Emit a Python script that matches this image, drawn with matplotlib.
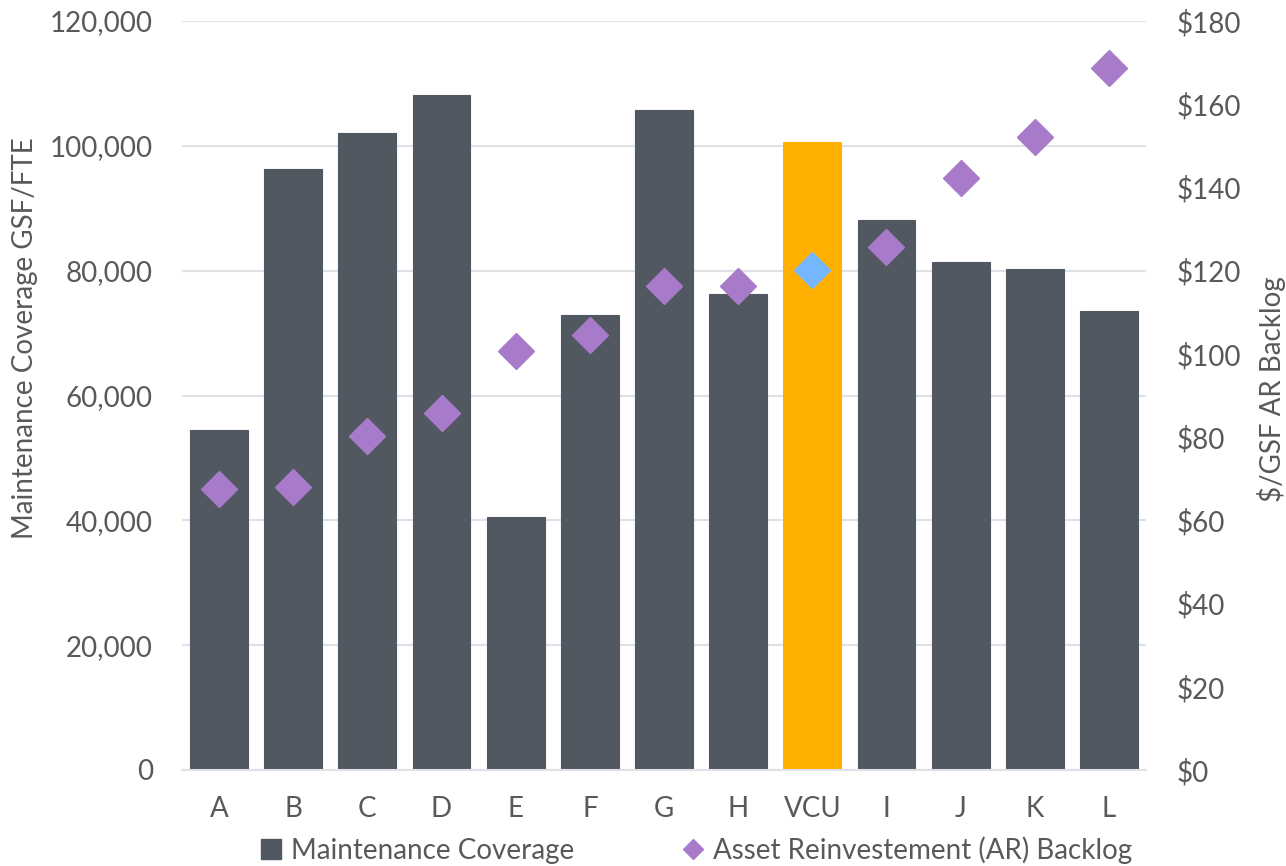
import matplotlib
matplotlib.use("Agg")
import matplotlib.pyplot as plt
from matplotlib.lines import Line2D
from matplotlib.ticker import FuncFormatter

categories = ["A", "B", "C", "D", "E", "F", "G", "H", "VCU", "I", "J", "K", "L"]
coverage = [54400, 96350, 102100, 108070, 40500, 72850, 105750, 76200, 100670, 88040, 81430, 80260, 73490]
backlog = [67.5, 68.0, 80.2, 85.8, 100.6, 104.6, 116.3, 116.4, 120.2, 125.8, 142.3, 152.1, 168.6]
highlight = "VCU"

left_ticks = [0, 20000, 40000, 60000, 80000, 100000, 120000]
right_ticks = [0, 20, 40, 60, 80, 100, 120, 140, 160, 180]

BAR = "#515862"
ORANGE = "#FFB000"
PURPLE = "#A87BCA"
BLUE = "#74B7FF"
TXT = "#595959"
GRID = "#DEE1E5"

plt.rcParams['font.family'] = ['Lato', 'DejaVu Sans']
FS = 20

W, H = 1286, 866
fig = plt.figure(figsize=(W / 100, H / 100), dpi=100)
ax = fig.add_axes([182/W, 1 - 770/H, (1146-182)/W, (770-21)/H])
ax2 = ax.twinx()

x = list(range(len(categories)))
bar_colors = [ORANGE if c == highlight else BAR for c in categories]
ax.bar(x, coverage, width=0.78, color=bar_colors, edgecolor=bar_colors, linewidth=0.8, zorder=2)

pts_x = [i for i, c in enumerate(categories) if c != highlight]
pts_y = [backlog[i] for i in pts_x]
hi = categories.index(highlight)
ax2.plot(pts_x, pts_y, linestyle="none", marker="D", ms=18.5, color=PURPLE, mec=PURPLE, zorder=3)
ax2.plot([hi], [backlog[hi]], linestyle="none", marker="D", ms=18.5, color=BLUE, mec=BLUE, zorder=3)

ax.set_xlim(-0.5, len(categories) - 0.5)
ax.set_ylim(0, 120000)
ax2.set_ylim(0, 180)
ax.set_yticks(left_ticks)
ax2.set_yticks(right_ticks)
ax.yaxis.set_major_formatter(FuncFormatter(lambda v, p: f"{int(v):,}"))
ax2.yaxis.set_major_formatter(FuncFormatter(lambda v, p: f"${int(v)}"))
ax.set_xticks(x)
ax.set_xticklabels(categories)

ax.grid(axis="y", color=GRID, linewidth=1.5, zorder=0)
ax.set_axisbelow(True)
for a in (ax, ax2):
    for s in ("top", "left", "right"):
        a.spines[s].set_visible(False)
    a.spines["bottom"].set_color(GRID)
    a.spines["bottom"].set_linewidth(1.5)
ax2.spines["bottom"].set_visible(False)

ax.tick_params(axis="y", length=0, pad=21, labelsize=FS, labelcolor=TXT)
ax2.tick_params(axis="y", length=0, pad=22, labelsize=FS, labelcolor=TXT)
ax.tick_params(axis="x", length=0, pad=19, labelsize=FS, labelcolor=TXT)

fig.text(25/W, 1 - 338/H, "Maintenance Coverage GSF/FTE", rotation=90,
         ha="center", va="center", fontsize=FS, color=TXT)
fig.text(1272/W, 1 - 389/H, "$/GSF AR Backlog", rotation=90,
         ha="center", va="center", fontsize=FS, color=TXT)

handles = [
    Line2D([], [], linestyle="none", marker="s", ms=15, color=BAR),
    Line2D([], [], linestyle="none", marker="D", ms=10, color=PURPLE),
]
fig.legend(handles, ["Maintenance Coverage", "Asset Reinvestement (AR) Backlog"],
           loc="center", bbox_to_anchor=(696/W, 1 - 850/H), ncol=2, frameon=False,
           fontsize=FS, labelcolor=TXT, handlelength=0.8, handletextpad=0.3,
           columnspacing=3.9, borderpad=0)

fig.savefig("out.png", dpi=100)
